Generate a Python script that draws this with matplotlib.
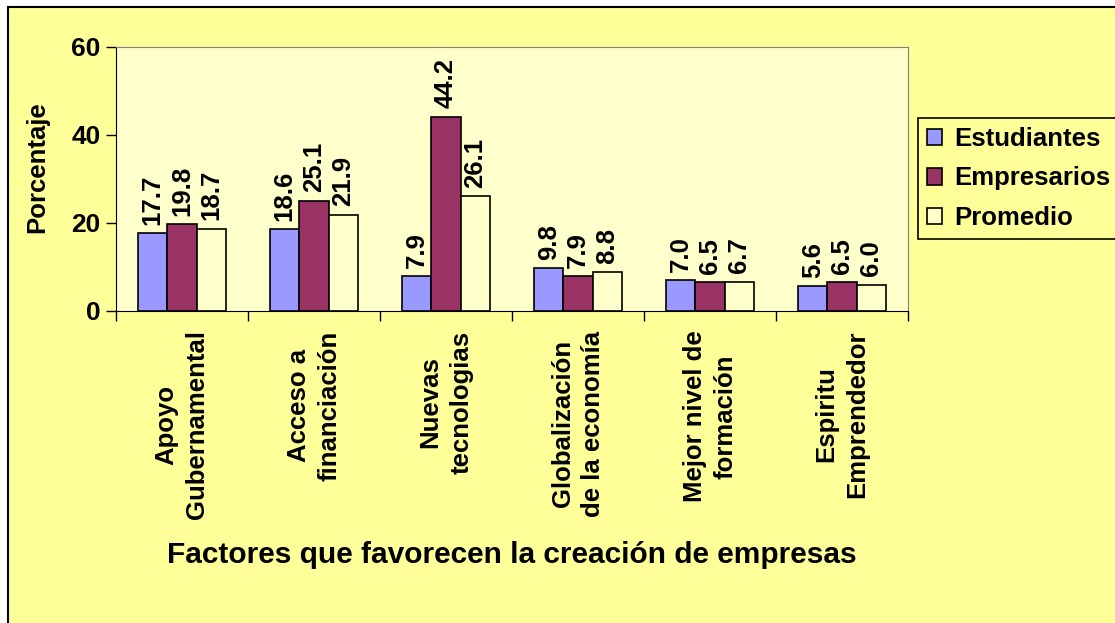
import matplotlib
matplotlib.use('Agg')
import matplotlib.pyplot as plt
import numpy as np
from matplotlib.patches import Rectangle

categorias = ['Apoyo\nGubernamental', 'Acceso a\nfinanciación', 'Nuevas\ntecnologias',
              'Globalización\nde la economía', 'Mejor nivel de\nformación', 'Espiritu\nEmprendedor']
estudiantes = [17.7, 18.6, 7.9, 9.8, 7.0, 5.6]
empresarios = [19.8, 25.1, 44.2, 7.9, 6.5, 6.5]
promedio = [18.7, 21.9, 26.1, 8.8, 6.7, 6.0]
series = ['Estudiantes', 'Empresarios', 'Promedio']
colores = ['#9999FF', '#993366', '#FFFFCC']

plt.rcParams['font.family'] = ['Liberation Sans', 'DejaVu Sans']
plt.rcParams['font.weight'] = 'bold'

fig = plt.figure(figsize=(11.15, 6.23), dpi=100, facecolor='white')
# fondo del area del grafico
fondo = Rectangle((8 / 1115, -0.1), 1.2, 1.1 - 7 / 623, transform=fig.transFigure,
                  facecolor='#FFFF99', edgecolor='black', lw=1.5, zorder=-10)
fig.patches.append(fondo)

ax = fig.add_axes([116 / 1115, 1 - 311 / 623, (908 - 116) / 1115, (311 - 47) / 623])
ax.set_facecolor('#FFFFCC')

x = np.arange(len(categorias))
w = 0.222
datos = [estudiantes, empresarios, promedio]
for i, (vals, nombre, col) in enumerate(zip(datos, series, colores)):
    barras = ax.bar(x + (i - 1) * w, vals, w, color=col, edgecolor='black', lw=1.2, label=nombre)
    for b, v in zip(barras, vals):
        ax.annotate('%.1f' % v, (b.get_x() + b.get_width() / 2, v), xytext=(0, 6),
                    textcoords='offset points', rotation=90, ha='center', va='bottom',
                    fontsize=18.5, fontweight='bold')

ax.set_xlim(-0.5, len(categorias) - 0.5)
ax.set_ylim(0, 60)
ax.set_yticks([0, 20, 40, 60])
ax.tick_params(axis='y', labelsize=19, length=7, width=1, direction='out', pad=4)

ax.set_xticks(np.arange(-0.5, len(categorias)), minor=False)
ax.set_xticklabels([])
ax.tick_params(axis='x', which='major', length=7, width=1, direction='out')
ax.set_xticks(x, minor=True)
ax.set_xticklabels(categorias, minor=True, rotation=90, fontsize=18.5, fontweight='bold',
                   ha='center', va='top', multialignment='center', linespacing=1.35)
ax.tick_params(axis='x', which='minor', length=0, pad=14)

for s in ['top', 'right']:
    ax.spines[s].set_color('#808080')
for s in ['left', 'bottom']:
    ax.spines[s].set_color('black')

fig.text(37 / 1115, 1 - 167 / 623, 'Porcentaje', rotation=90, ha='center', va='center',
         fontsize=18.5, fontweight='bold')
fig.text(512 / 1115, 1 - 555 / 623, 'Factores que favorecen la creación de empresas',
         ha='center', va='center', fontsize=21.5, fontweight='bold')

leg = fig.legend(loc='upper left', bbox_to_anchor=(918 / 1115, 1 - 118 / 623), fontsize=18.5,
                 frameon=True, fancybox=False, edgecolor='black', facecolor='#FFFF99',
                 handlelength=0.6, handleheight=0.6, handletextpad=0.45, labelspacing=0.6,
                 borderpad=0.35, borderaxespad=0)
leg.get_frame().set_linewidth(1.2)
leg.get_frame().set_alpha(None)

fig.savefig('out.png', dpi=100, facecolor=fig.get_facecolor())
